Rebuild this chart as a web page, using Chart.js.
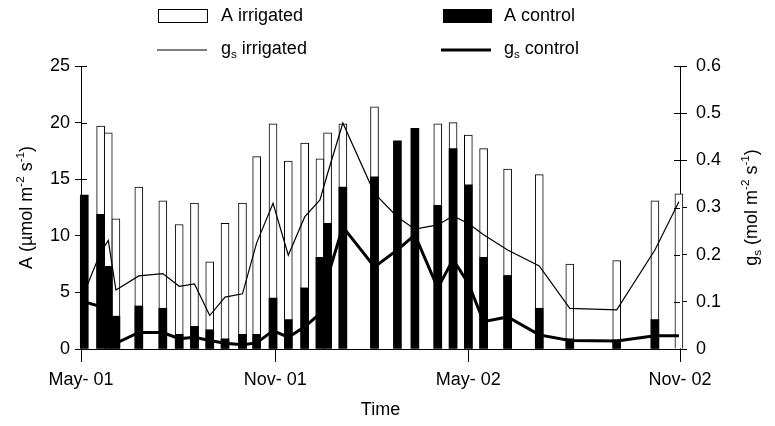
<!DOCTYPE html>
<html><head><meta charset="utf-8">
<script src="https://cdn.jsdelivr.net/npm/chart.js@4.4.1/dist/chart.umd.min.js"></script>
<style>html,body{margin:0;padding:0;background:#fff}#wrap{width:775px;height:426px;position:relative}</style>
</head><body><div id="wrap"><canvas id="c" width="775" height="426"></canvas></div>
<script>
const days = [3, 18, 25, 32, 53, 75, 90, 104, 118, 132, 148, 161, 176, 190, 205, 219, 226, 240, 269, 290, 306, 327, 341, 355, 369, 391, 420, 448, 491, 526, 548];
const aIrrigated = [null, 19.7, 19.1, 11.5, 14.3, 13.1, 11.0, 12.9, 7.7, 11.1, 12.9, 17.0, 19.9, 16.6, 18.2, 16.8, 19.1, 19.9, 21.4, null, null, 19.9, 20.0, 18.9, 17.7, 15.9, 15.4, 7.5, 7.8, 13.1, 13.7];
const aControl = [13.6, 11.9, 7.3, 2.9, 3.8, 3.6, 1.3, 2.0, 1.7, 0.9, 1.3, 1.3, 4.5, 2.6, 5.4, 8.1, 11.1, 14.3, 15.2, 18.4, 19.5, 12.7, 17.7, 14.5, 8.1, 6.5, 3.6, 0.9, 0.8, 2.6, null];
const gsIrrigated = [0.12, 0.205, 0.23, 0.125, 0.155, 0.16, 0.133, 0.138, 0.071, 0.11, 0.117, 0.225, 0.309, 0.199, 0.28, 0.316, 0.372, 0.479, 0.33, 0.28, 0.254, 0.263, 0.282, 0.266, 0.242, 0.21, 0.176, 0.086, 0.083, 0.21, 0.312];
const gsControl = [0.10, 0.09, 0.05, 0.012, 0.035, 0.035, 0.022, 0.025, 0.018, 0.012, 0.009, 0.013, 0.039, 0.025, 0.047, 0.075, 0.153, 0.259, 0.174, 0.21, 0.242, 0.129, 0.19, 0.139, 0.058, 0.068, 0.030, 0.018, 0.017, 0.028, 0.028];
const tickDays = [0, 178, 355, 549];
const tickLabels = ['May- 01', 'Nov- 01', 'May- 02', 'Nov- 02'];
const leftTicks = [0, 5, 10, 15, 20, 25];
const rightTicks = [0, 0.1, 0.2, 0.3, 0.4, 0.5, 0.6];

const FONT = "'Liberation Sans', Arial, Helvetica, sans-serif";
const FS = 18;

function pts(vals){ return days.map((d,i)=>({x:d, y:vals[i]})); }

function richWidth(ctx, parts, size){
  let w = 0;
  for (const p of parts){
    const s = p.k ? size*0.65 : size;
    ctx.font = s + 'px ' + FONT;
    w += ctx.measureText(p.t).width;
  }
  return w;
}
function drawRich(ctx, parts, x, y, align, size){
  const w = richWidth(ctx, parts, size);
  let cx = align === 'center' ? x - w/2 : x;
  ctx.textBaseline = 'middle';
  ctx.textAlign = 'left';
  ctx.fillStyle = '#000';
  for (const p of parts){
    const s = p.k ? size*0.65 : size;
    ctx.font = s + 'px ' + FONT;
    let dy = 0;
    if (p.k === 'sup') dy = -size*0.35;
    if (p.k === 'sub') dy = size*0.3;
    ctx.fillText(p.t, cx, y + dy);
    cx += ctx.measureText(p.t).width;
  }
}

const extras = {
  id: 'extras',
  afterDraw(chart){
    const ctx = chart.ctx;
    const ca = chart.chartArea;
    ctx.save();
    // inner halves of the crossing ticks
    ctx.strokeStyle = '#000'; ctx.lineWidth = 1;
    const y = chart.scales.y, y2 = chart.scales.y2;
    ctx.beginPath();
    y.ticks.forEach(t=>{ const p = Math.round(y.getPixelForValue(t.value))+0.5; ctx.moveTo(ca.left, p); ctx.lineTo(ca.left+6, p); });
    y2.ticks.forEach(t=>{ const p = Math.round(y2.getPixelForValue(t.value))+0.5; ctx.moveTo(ca.right-6, p); ctx.lineTo(ca.right, p); });
    ctx.stroke();

    // legend
    ctx.fillStyle = '#fff'; ctx.strokeStyle = '#000'; ctx.lineWidth = 1;
    ctx.fillRect(158.5, 9.5, 49, 13); ctx.strokeRect(158.5, 9.5, 49, 13);
    ctx.fillStyle = '#000'; ctx.fillRect(443, 9, 49, 14);
    ctx.beginPath(); ctx.lineWidth = 1.2; ctx.moveTo(157, 50); ctx.lineTo(207, 50); ctx.stroke();
    ctx.beginPath(); ctx.lineWidth = 3; ctx.moveTo(441, 50); ctx.lineTo(491, 50); ctx.stroke();
    drawRich(ctx, [{t:'A irrigated'}], 221, 16, 'left', FS);
    drawRich(ctx, [{t:'A control'}], 504, 16, 'left', FS);
    drawRich(ctx, [{t:'g'},{t:'s',k:'sub'},{t:' irrigated'}], 221, 49, 'left', FS);
    drawRich(ctx, [{t:'g'},{t:'s',k:'sub'},{t:' control'}], 504, 49, 'left', FS);

    // axis titles
    drawRich(ctx, [{t:'Time'}], (ca.left+ca.right)/2, 410, 'center', FS);
    const midY = (ca.top + ca.bottom)/2;
    ctx.save(); ctx.translate(27, midY); ctx.rotate(-Math.PI/2);
    drawRich(ctx, [{t:'A (µmol m'},{t:'-2',k:'sup'},{t:' s'},{t:'-1',k:'sup'},{t:')'}], 0, 0, 'center', FS);
    ctx.restore();
    ctx.save(); ctx.translate(752, midY); ctx.rotate(-Math.PI/2);
    drawRich(ctx, [{t:'g'},{t:'s',k:'sub'},{t:' (mol m'},{t:'-2',k:'sup'},{t:' s'},{t:'-1',k:'sup'},{t:')'}], 0, 0, 'center', FS);
    ctx.restore();
    ctx.restore();
  }
};

const tickFont = {family: FONT, size: FS};

new Chart(document.getElementById('c'), {
  type: 'bar',
  data: {
    datasets: [
      {type:'line', label:'gs irrigated', data: pts(gsIrrigated), yAxisID:'y2', borderColor:'#000', borderWidth:1.2, pointRadius:0, tension:0, order:0, fill:false},
      {type:'line', label:'gs control', data: pts(gsControl), yAxisID:'y2', borderColor:'#000', borderWidth:3, pointRadius:0, tension:0, order:0, fill:false, borderJoinStyle:'miter'},
      {type:'bar', label:'A control', data: pts(aControl), yAxisID:'y', backgroundColor:'#000', borderWidth:0, barThickness:8, grouped:false, order:1, clip:false},
      {type:'bar', label:'A irrigated', data: pts(aIrrigated), yAxisID:'y', backgroundColor:'#fff', borderColor:'#000', borderWidth:1, barThickness:8, grouped:false, order:2, clip:false}
    ]
  },
  options: {
    responsive: false,
    animation: false,
    devicePixelRatio: 1,
    layout: {padding: {top: 66, left: 0, right: 0, bottom: 0}},
    plugins: {legend: {display:false}, tooltip: {enabled:false}},
    scales: {
      x: {
        type: 'linear', min: 0, max: 549, offset: false,
        afterBuildTicks(s){ s.ticks = tickDays.map(v=>({value:v})); },
        afterFit(s){ s.height = 77; },
        ticks: {font: tickFont, color:'#000', padding: 7, maxRotation:0, autoSkip:false,
          callback(v){ const i = tickDays.indexOf(v); return i >= 0 ? tickLabels[i] : ''; }},
        grid: {drawOnChartArea:false, drawTicks:true, tickLength:13, color:'#000', offset:false},
        border: {display:true, color:'#000', width:1}
      },
      y: {
        position:'left', min:0, max:25,
        afterBuildTicks(s){ s.ticks = leftTicks.map(v=>({value:v})); },
        afterFit(s){ s.width = 81; },
        ticks: {font: tickFont, color:'#000', padding: 5},
        grid: {drawOnChartArea:false, drawTicks:true, tickLength:6, color:'#000'},
        border: {display:true, color:'#000', width:1}
      },
      y2: {
        position:'right', min:0, max:0.6,
        afterBuildTicks(s){ s.ticks = rightTicks.map(v=>({value:v})); },
        afterFit(s){ s.width = 95; },
        ticks: {font: tickFont, color:'#000', padding: 9, callback(v){ return v === 0 ? '0' : Number(v).toFixed(1); }},
        grid: {drawOnChartArea:false, drawTicks:true, tickLength:7, color:'#000'},
        border: {display:true, color:'#000', width:1}
      }
    }
  },
  plugins: [extras]
});
</script>
</body></html>
